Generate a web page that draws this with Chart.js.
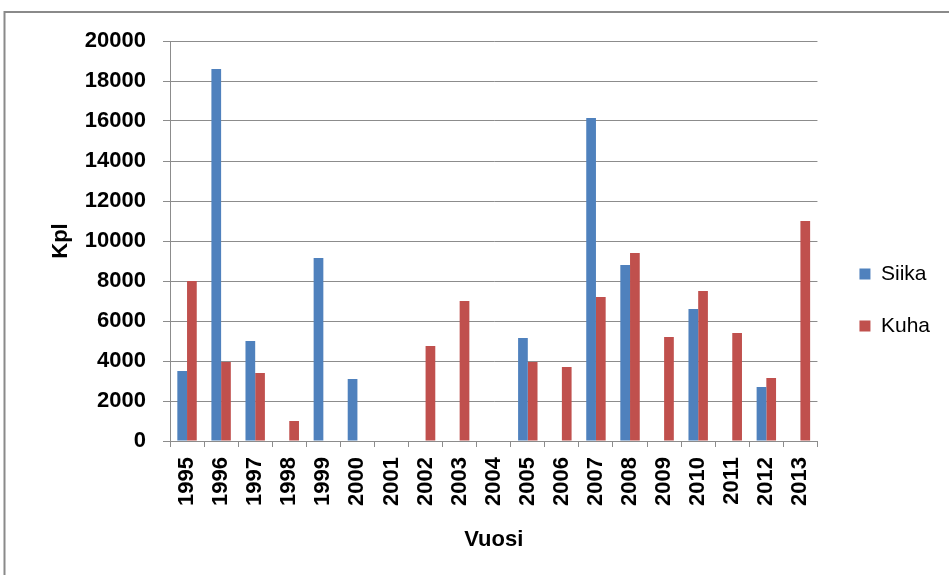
<!DOCTYPE html>
<html>
<head>
<meta charset="utf-8">
<script src="https://cdn.jsdelivr.net/npm/chart.js@4"></script>
<style>
  html, body { margin: 0; padding: 0; background: #ffffff; }
  #wrap { width: 949px; height: 575px; position: relative; }
</style>
</head>
<body>
<div id="wrap"><canvas id="c" width="949" height="575"></canvas></div>
<script>
const years = ['1995','1996','1997','1998','1999','2000','2001','2002','2003','2004','2005','2006','2007','2008','2009','2010','2011','2012','2013'];
const siika = [3500, 18600, 5000, null, 9150, 3100, null, null, null, null, 5150, null, 16150, 8800, null, 6600, null, 2700, null];
const kuha  = [8000, 3950, 3400, 1000, null, null, null, 4750, 7000, null, 3950, 3700, 7200, 9400, 5200, 7500, 5400, 3150, 11000];
const yTicks = [0, 2000, 4000, 6000, 8000, 10000, 12000, 14000, 16000, 18000, 20000];

const GRID = '#8c8c8c';
const FONT = "'Liberation Sans', Arial, sans-serif";

const frame = {
  id: 'frame',
  afterLayout(chart) {
    const lg = chart.legend;
    if (lg) {
      const dx = 11, dy = -8;
      lg.left += dx; lg.right += dx;
      lg.top += dy; lg.bottom += dy;
    }
  },
  beforeDraw(chart) {
    const ctx = chart.ctx;
    ctx.save();
    ctx.fillStyle = '#ffffff';
    ctx.fillRect(0, 0, chart.width, chart.height);
    ctx.strokeStyle = '#8a8a8a';
    ctx.lineWidth = 2;
    ctx.beginPath();
    ctx.moveTo(4.5, chart.height);
    ctx.lineTo(4.5, 12);
    ctx.lineTo(chart.width, 12);
    ctx.stroke();
    ctx.restore();
  }
};

new Chart(document.getElementById('c'), {
  type: 'bar',
  data: {
    labels: years,
    datasets: [
      { label: 'Siika', data: siika, backgroundColor: '#4F81BD', borderWidth: 0 },
      { label: 'Kuha', data: kuha, backgroundColor: '#C0504D', borderWidth: 0 }
    ]
  },
  options: {
    responsive: false,
    animation: false,
    devicePixelRatio: 1,
    layout: { padding: { top: 41, left: 10, right: 20, bottom: 0 } },
    datasets: { bar: { categoryPercentage: 0.57, barPercentage: 1.0 } },
    plugins: {
      legend: {
        position: 'right',
        labels: {
          boxWidth: 11, boxHeight: 11, padding: 31,
          color: '#000000',
          font: { family: FONT, size: 21 }
        }
      },
      tooltip: { enabled: false }
    },
    scales: {
      x: {
        afterFit(s) { s.height = 134; },
        grid: { display: true, drawOnChartArea: false, drawTicks: true, tickLength: 6, offset: true, color: GRID },
        border: { display: true, color: GRID, width: 1 },
        ticks: {
          minRotation: 90, maxRotation: 90, padding: 10, autoSkip: false,
          color: '#000000', font: { family: FONT, size: 22, weight: 'bold' }
        },
        title: {
          display: true, text: 'Vuosi', color: '#000000',
          font: { family: FONT, size: 22, weight: 'bold' },
          padding: { top: 0, bottom: 22 }
        }
      },
      y: {
        min: 0, max: 20000,
        afterFit(s) { s.width = 160; },
        afterBuildTicks(s) { s.ticks = yTicks.map(v => ({ value: v })); },
        grid: { color: GRID, lineWidth: 1, drawTicks: true, tickLength: 7 },
        border: { display: true, color: GRID, width: 1 },
        ticks: {
          padding: 17, color: '#000000',
          callback: (v) => String(v),
          font: { family: FONT, size: 22, weight: 'bold' }
        },
        title: {
          display: true, text: 'Kpl', color: '#000000',
          font: { family: FONT, size: 22, weight: 'bold' },
          padding: { top: 38, bottom: 0 }
        }
      }
    }
  },
  plugins: [frame]
});
</script>
</body>
</html>
